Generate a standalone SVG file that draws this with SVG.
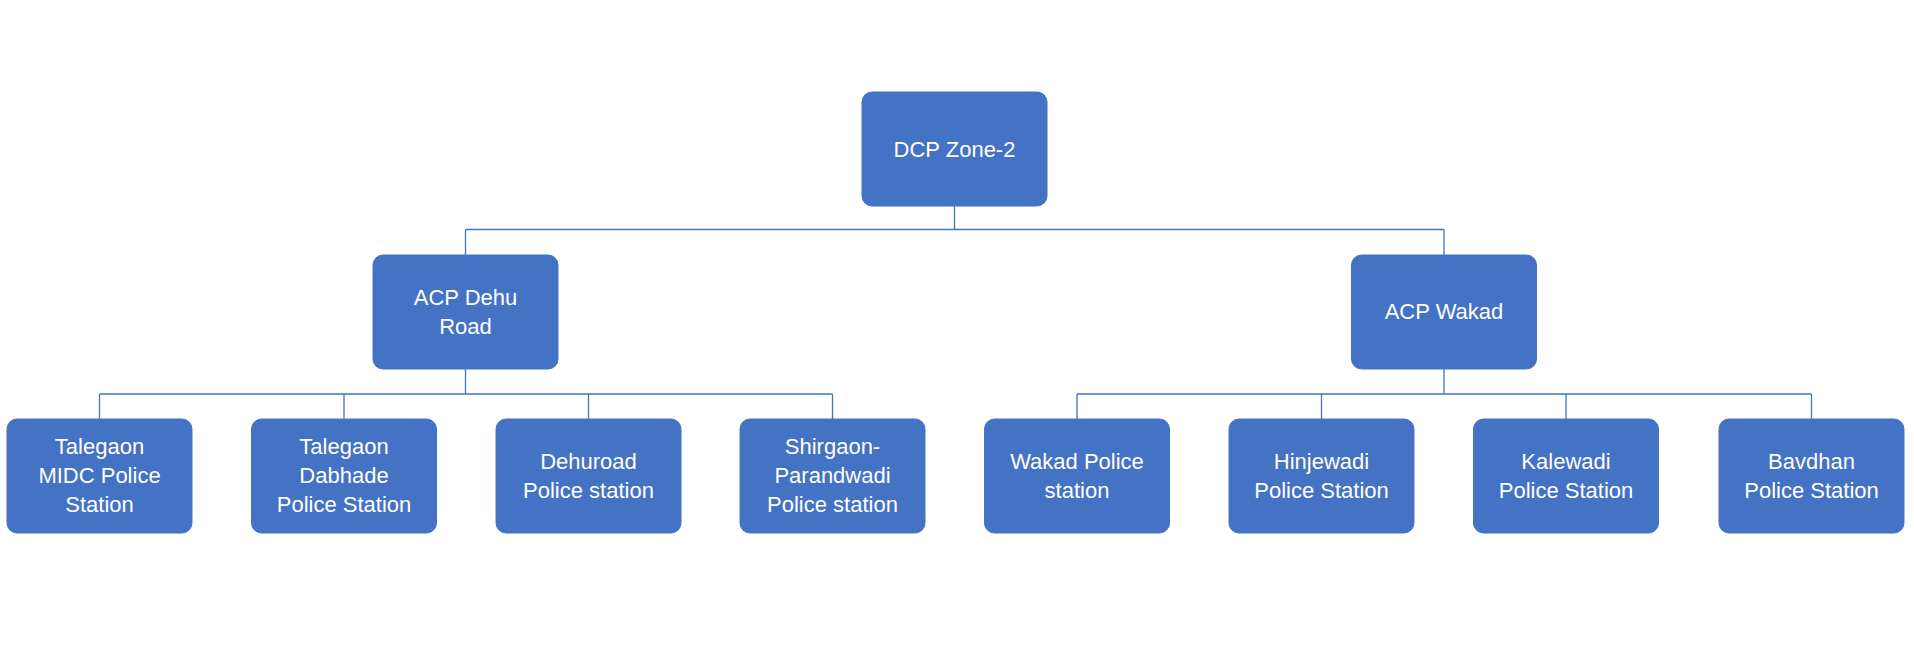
<svg xmlns="http://www.w3.org/2000/svg" width="1914" height="657" viewBox="0 0 1914 657">
<style>
.n{fill:#4472C4;stroke:#4472C4}
.t{font-family:"Liberation Sans",Arial,sans-serif;font-size:22px;fill:#fff;text-anchor:middle}
.c{stroke:#4472C4;stroke-width:1.3;fill:none}
</style>
<rect width="1914" height="657" fill="#fff"/>
<g id="connectors" class="c">
<path d="M954.5 206V229.5M465.5 229.5H1444M465.5 229.5V255M1444 229.5V255"/>
<path d="M465.5 369V394M99.5 394H832.5M99.5 394V419M344 394V419M588.5 394V419M832.5 394V419"/>
<path d="M1444 369V394M1077 394H1811.5M1077 394V419M1321.5 394V419M1566 394V419M1811.5 394V419"/>
</g>
<g id="dcp"><rect class="n" x="862" y="92" width="185" height="114" rx="10"/><text class="t" x="954.5" y="157">DCP Zone-2</text></g>
<g id="acp-dehu"><rect class="n" x="373" y="255" width="185" height="114" rx="10"/><text class="t" x="465.5" y="305">ACP Dehu</text><text class="t" x="465.5" y="334">Road</text></g>
<g id="acp-wakad"><rect class="n" x="1351.5" y="255" width="185" height="114" rx="10"/><text class="t" x="1444" y="319">ACP Wakad</text></g>
<g id="talegaon-midc"><rect class="n" x="7" y="419" width="185" height="114" rx="10"/><text class="t" x="99.5" y="454">Talegaon</text><text class="t" x="99.5" y="483">MIDC Police</text><text class="t" x="99.5" y="512">Station</text></g>
<g id="talegaon-dabhade"><rect class="n" x="251.5" y="419" width="185" height="114" rx="10"/><text class="t" x="344" y="454">Talegaon</text><text class="t" x="344" y="483">Dabhade</text><text class="t" x="344" y="512">Police Station</text></g>
<g id="dehuroad"><rect class="n" x="496" y="419" width="185" height="114" rx="10"/><text class="t" x="588.5" y="469">Dehuroad</text><text class="t" x="588.5" y="498">Police station</text></g>
<g id="shirgaon"><rect class="n" x="740" y="419" width="185" height="114" rx="10"/><text class="t" x="832.5" y="454">Shirgaon-</text><text class="t" x="832.5" y="483">Parandwadi</text><text class="t" x="832.5" y="512">Police station</text></g>
<g id="wakad"><rect class="n" x="984.5" y="419" width="185" height="114" rx="10"/><text class="t" x="1077" y="469">Wakad Police</text><text class="t" x="1077" y="498">station</text></g>
<g id="hinjewadi"><rect class="n" x="1229" y="419" width="185" height="114" rx="10"/><text class="t" x="1321.5" y="469">Hinjewadi</text><text class="t" x="1321.5" y="498">Police Station</text></g>
<g id="kalewadi"><rect class="n" x="1473.5" y="419" width="185" height="114" rx="10"/><text class="t" x="1566" y="469">Kalewadi</text><text class="t" x="1566" y="498">Police Station</text></g>
<g id="bavdhan"><rect class="n" x="1719" y="419" width="185" height="114" rx="10"/><text class="t" x="1811.5" y="469">Bavdhan</text><text class="t" x="1811.5" y="498">Police Station</text></g>
</svg>
